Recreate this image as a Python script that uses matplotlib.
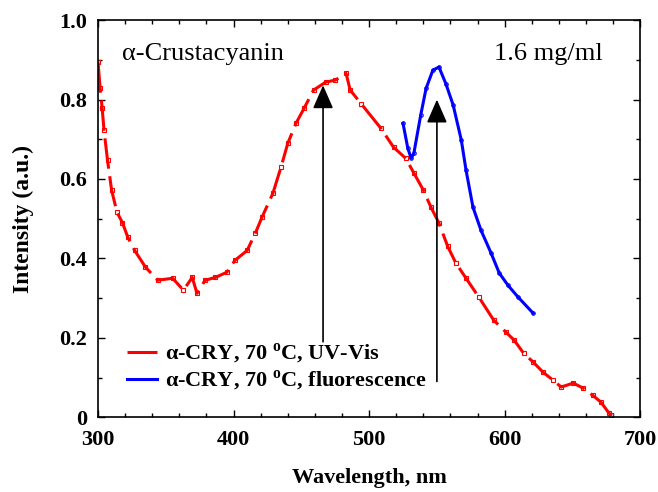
import matplotlib
matplotlib.use("Agg")
import matplotlib.pyplot as plt
from matplotlib.ticker import MultipleLocator

plt.rcParams['font.family'] = ['Liberation Serif', 'DejaVu Serif']
plt.rcParams['mathtext.fontset'] = 'custom'
plt.rcParams['mathtext.rm'] = 'Liberation Serif'
plt.rcParams['mathtext.bf'] = 'Liberation Serif:bold'

# UV-Vis spectrum (red)
uv_wl = [300, 301.5, 303, 304.4, 307, 310, 314, 318, 322, 327, 335, 344, 355, 363,
         369.5, 373, 379, 386.5, 395, 401, 410, 416, 421, 429, 435, 440, 446, 452,
         459, 468, 475, 483, 486, 494, 508.6, 518, 527, 533, 540, 545.6, 551.5, 558,
         564, 571.5, 581, 592, 601, 607, 614, 621, 628.4, 635.8, 641.7, 650.6, 658,
         665, 671, 677, 678.7]
uv_int = [0.894, 0.83, 0.78, 0.723, 0.647, 0.572, 0.516, 0.49, 0.453, 0.42, 0.378,
          0.345, 0.35, 0.32, 0.352, 0.312, 0.345, 0.352, 0.365, 0.395, 0.42, 0.463,
          0.504, 0.564, 0.63, 0.69, 0.74, 0.778, 0.824, 0.844, 0.849, 0.866, 0.824,
          0.79, 0.728, 0.68, 0.652, 0.615, 0.572, 0.529, 0.489, 0.43, 0.388, 0.35,
          0.302, 0.244, 0.214, 0.194, 0.161, 0.139, 0.113, 0.093, 0.076, 0.086,
          0.073, 0.055, 0.038, 0.01, 0.005]

# fluorescence spectrum (blue)
fl_wl = [525, 528.5, 531, 533, 538, 542, 547, 551.5, 556.6, 562, 568, 571.5, 576.6,
         582.5, 590, 596, 602.5, 610, 621]
fl_int = [0.74, 0.678, 0.652, 0.665, 0.76, 0.828, 0.874, 0.882, 0.84, 0.786, 0.698,
          0.622, 0.529, 0.471, 0.413, 0.363, 0.332, 0.302, 0.262]

# arrows: (wavelength, start, tip)
arrows = [(466, 0.19, 0.836), (550, 0.09, 0.80)]

fig = plt.figure(figsize=(6.58, 4.92), dpi=100)
ax = fig.add_axes([0.149, 0.152, 0.824, 0.807])

ax.plot(uv_wl, uv_int, color='red', lw=2.2, dashes=(10, 2.5), marker='s', ms=2.5,
        mfc='none', mew=0.8, label='α-CRY, 70 $^{\\mathbf{o}}$C, UV-Vis')
ax.plot(fl_wl, fl_int, color='blue', lw=2.2, marker='o', ms=2.5, mfc='none', mew=0.8,
        label='α-CRY, 70 $^{\\mathbf{o}}$C, fluorescence')

for wl, y0, y1 in arrows:
    ax.annotate('', xy=(wl, y1), xytext=(wl, y0),
                arrowprops=dict(arrowstyle='-|>,head_width=0.35,head_length=0.8',
                                color='black', lw=1.2, mutation_scale=18,
                                shrinkA=0, shrinkB=0))

ax.set_xlim(300, 700)
ax.set_ylim(0, 1.0)
ax.xaxis.set_major_locator(MultipleLocator(100))
ax.xaxis.set_minor_locator(MultipleLocator(20))
ax.yaxis.set_minor_locator(MultipleLocator(0.1))
ax.set_yticks([0, 0.2, 0.4, 0.6, 0.8, 1.0])
ax.set_yticklabels(['0', '0.2', '0.4', '0.6', '0.8', '1.0'])
ax.tick_params(which='both', direction='in', top=True, right=True, width=1)
ax.tick_params(which='major', length=5, labelsize=16)
ax.tick_params(axis='x', which='major', pad=9)
ax.tick_params(axis='y', which='major', pad=8)
ax.tick_params(which='minor', length=3)
for lab in ax.get_xticklabels() + ax.get_yticklabels():
    lab.set_fontweight('bold')
for s in ax.spines.values():
    s.set_linewidth(1.2)

ax.set_xlabel('Wavelength, nm', fontsize=16, fontweight='bold', va='center')
ax.set_ylabel('Intensity (a.u.)', fontsize=17, fontweight='bold', va='center')
ax.xaxis.set_label_coords(0.5, -0.154)
ax.yaxis.set_label_coords(-0.138, 0.5)

ax.text(0.045, 0.915, 'α-Crustacyanin', transform=ax.transAxes, fontsize=19,
        va='center', ha='left')
ax.text(0.93, 0.915, '1.6 mg/ml', transform=ax.transAxes, fontsize=19,
        va='center', ha='right')

leg = ax.legend(loc='lower left', bbox_to_anchor=(0.042, 0.043), frameon=False,
                handlelength=1.35, handletextpad=0.35, labelspacing=0.15,
                borderaxespad=0, borderpad=0.3,
                prop={'weight': 'bold', 'size': 16})
for h in leg.get_lines():
    h.set_marker('')

fig.savefig('out.png', dpi=100)
